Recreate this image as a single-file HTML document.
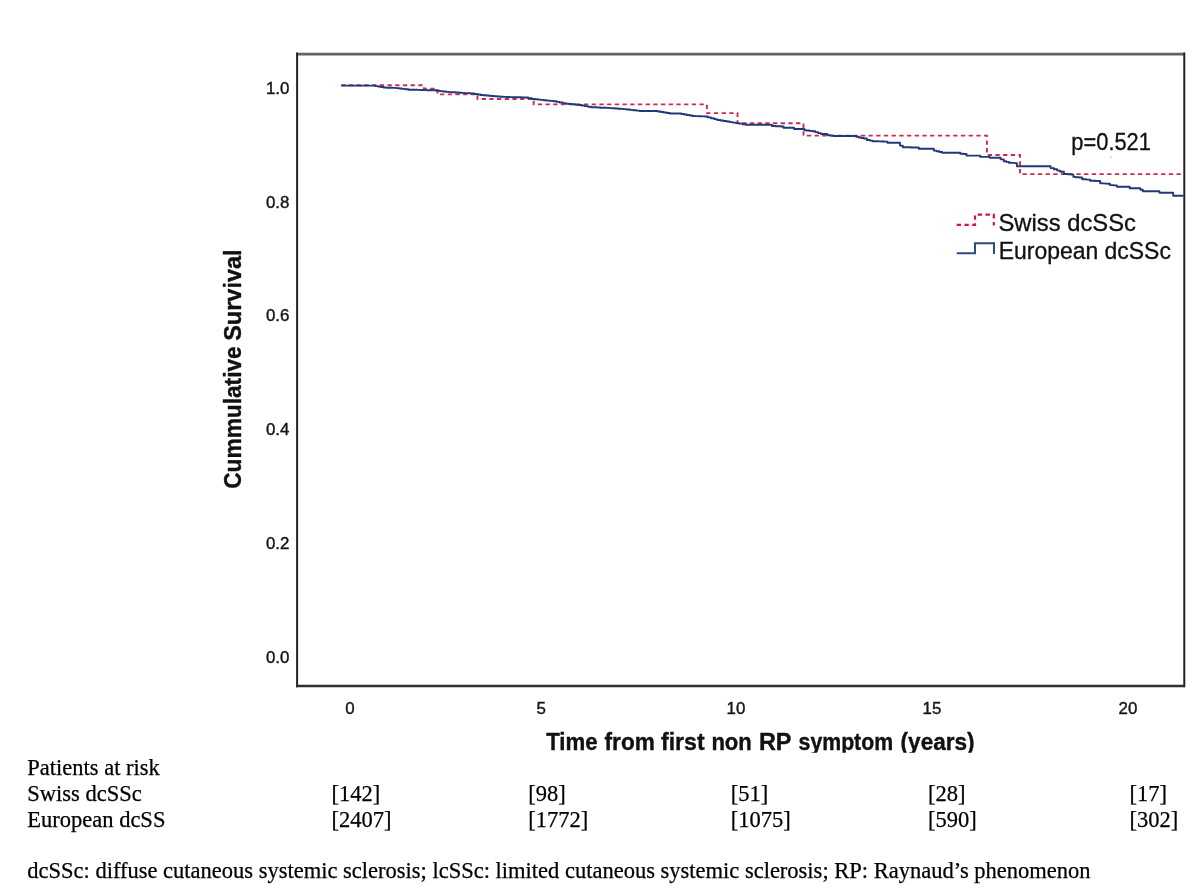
<!DOCTYPE html>
<html lang="en"><head><meta charset="utf-8"><title>Cumulative survival - Swiss vs European dcSSc</title>
<style>html,body{margin:0;padding:0;background:#fff}body{width:1200px;height:891px;overflow:hidden}svg{display:block}</style></head><body>
<svg width="1200" height="891" viewBox="0 0 1200 891">
<rect width="1200" height="891" fill="#fff"/>
<g fill="none">
<line x1="296.1" y1="54.1" x2="1185" y2="54.1" stroke="#636363" stroke-width="2.9"/>
<line x1="297.1" y1="52.5" x2="297.1" y2="687.3" stroke="#222" stroke-width="2"/>
<line x1="1184.3" y1="52.5" x2="1184.3" y2="687.3" stroke="#222" stroke-width="2"/>
<line x1="296.1" y1="686" x2="1185" y2="686" stroke="#2e2e2e" stroke-width="2.6"/>
</g>
<path d="M341.3 85.3H424.0V88.8H437.5V94.4H477.5V99.0H533.7V104.4H706.9V113.1H737.5V123.3H803.5V135.6H986.9V155.0H1020.0V174.1H1183.0" fill="none" stroke="#d02a52" stroke-width="1.9" stroke-dasharray="4.3 3.4"/>
<path d="M341.3 85.6H373.8H375.2V86.1H376.6H378.0V86.5H379.4H380.8V87.0H382.2H383.6V87.5H385.0H386.6V87.7H388.1H389.7V87.8H391.2H392.8V87.9H394.4H395.9V88.1H397.5H399.1V88.5H400.6H402.2V88.9H403.8H405.3V89.3H406.9H408.4V89.7H410.0H411.6V89.8H413.1H414.7V89.8H416.2H417.8V89.9H419.4H420.9V90.0H422.5H424.1V90.1H425.6H427.2V90.2H428.8H430.3V90.2H431.9H433.4V90.3H435.0H436.6V90.7H438.1H439.7V91.1H441.2H442.8V91.5H444.4H445.9V91.9H447.5H449.1V92.1H450.6H452.2V92.3H453.8H455.3V92.5H456.9H458.4V92.7H460.0H461.6V92.9H463.1H464.7V93.1H466.2H467.8V93.3H469.4H470.9V93.5H472.5H474.1V94.0H475.7H477.2V94.5H478.8H480.4V95.0H482.0H483.3V95.2H484.6H485.9V95.5H487.2H488.6V95.8H489.9H491.2V96.0H492.5H494.1V96.2H495.6H497.2V96.5H498.8H500.3V96.7H501.9H503.4V96.9H505.0H506.5V97.0H508.0H509.6V97.1H511.1H512.6V97.2H514.1H515.6V97.2H517.2H518.7V97.3H520.2H521.7V97.4H523.3H524.8V97.5H526.3H528.2V98.2H530.0H531.9V99.0H533.8H535.2V99.3H536.6H538.0V99.6H539.4H540.8V99.9H542.2H543.6V100.2H545.0H546.7V100.6H548.3H550.0V100.9H551.7H553.3V101.3H555.0H556.6V101.9H558.1H559.7V102.5H561.2H562.8V103.1H564.4H565.9V103.7H567.5H569.1V104.0H570.6H572.2V104.3H573.8H575.3V104.7H576.9H578.4V105.0H580.0H581.6V105.5H583.1H584.7V106.1H586.2H587.8V106.7H589.4H590.9V107.2H592.5H594.0V107.3H595.6H597.1V107.5H598.7H600.2V107.7H601.8H603.3V107.8H604.8H606.4V107.9H607.9H609.5V108.1H611.0H612.4V108.3H613.8H615.2V108.5H616.6H618.0V108.7H619.4H620.8V108.9H622.2H623.6V109.1H625.0H626.6V109.5H628.3H629.9V109.9H631.5H633.1V110.2H634.8H636.4V110.6H638.0H639.7V111.0H641.3H656.3H657.8V111.5H659.3H660.8V112.0H662.3H663.8V112.5H665.3H666.8V113.0H668.3H669.8V113.5H671.3H680.0H681.4V114.0H682.8H684.1V114.5H685.5H686.9V115.0H688.3H689.7V115.5H691.0H692.4V116.0H693.8H695.4V116.1H696.9H698.5V116.2H700.0H701.6V116.4H703.2H704.7V116.5H706.3H707.9V117.4H709.4H711.0V118.2H712.5H714.1V119.1H715.7H717.2V120.0H718.8H720.4V120.5H721.9H723.5V121.0H725.0H726.6V121.5H728.1H729.7V122.1H731.3H732.8V122.6H734.4H735.9V123.1H737.5H739.2V123.6H740.8H742.5V124.2H744.2H745.8V124.7H747.5H770.0H771.9V126.0H773.7H775.2V126.2H776.6H778.1V126.3H779.6H781.0V126.5H782.5H783.5V127.7H784.4H793.1H794.0V129.0H795.0H803.7H804.4V130.2H805.0H806.5V130.5H807.9H809.4V130.9H810.8H812.2V131.2H813.7H815.2V132.1H816.6H818.1V133.1H819.6H821.0V134.0H822.5H826.2H827.5V135.2H828.7H830.3V135.6H831.9H833.4V136.0H835.0H855.0H856.2V136.8H857.5H858.8V137.5H860.0H861.2V138.0H862.5H863.8V138.5H865.0H866.9V140.0H868.7H870.0V140.6H871.2H872.5V141.2H873.7H875.3V141.3H876.8H878.4V141.4H880.0H881.5V141.5H883.1H884.6V141.6H886.2H887.5V142.7H888.7H898.7H900.0V145.6H901.2H902.8V147.2H904.4H911.0V147.5H917.5H918.8V148.7H920.0H932.5H933.8V150.6H935.0H936.5V151.3H937.9H939.4V152.0H940.8H942.2V152.7H943.7H959.4H960.3V153.7H961.2H963.4V154.0H965.6H966.5V155.6H967.5H979.4H980.3V156.9H981.2H988.7H989.7V157.7H990.6H998.7H1000.6V159.4H1002.5H1003.8V161.2H1005.0H1006.2V161.9H1007.5H1008.8V162.7H1010.0H1011.5V162.9H1013.1H1014.7V163.1H1016.2H1016.9V166.3H1017.5H1048.7H1050.6V168.1H1052.5H1054.0V169.3H1055.6H1057.2V170.6H1058.7H1060.3V171.8H1062.0H1063.9V174.0H1065.8H1067.5V174.3H1069.3H1071.0V174.6H1072.8H1073.4V176.9H1074.0H1075.8V177.2H1077.5H1079.2V177.5H1081.0H1082.2V179.3H1083.3H1086.2V179.6H1089.2H1090.1V180.8H1091.0H1095.3V181.0H1099.7H1100.2V183.3H1100.8H1102.2V183.4H1103.5H1104.9V183.6H1106.3H1107.6V183.7H1109.0H1109.9V185.1H1110.8H1113.4V185.4H1116.0H1116.9V186.8H1117.8H1128.8H1129.7V188.2H1130.6H1139.3H1140.4V189.8H1141.5H1142.8V191.3H1144.0H1158.6H1159.4V192.7H1160.3H1172.6H1173.2V195.8H1173.8H1183.5" fill="none" stroke="#213977" stroke-width="1.9" stroke-linejoin="round"/>
<path d="M956.7 224.8H975V214.6H993.8V225.5" fill="none" stroke="#d2143f" stroke-width="2.2" stroke-dasharray="4.3 3.5"/>
<path d="M956.7 253.3H975V243.2H994V254" fill="none" stroke="#2c4a8a" stroke-width="2"/>
<g font-family="Liberation Sans, Arial, Helvetica, sans-serif" font-size="22.6" fill="#111" stroke="#111" stroke-width="0.3">
<text transform="translate(1071.3 150.4) scale(0.968 1.065)">p=0.521</text>
<text transform="translate(998.5 230.8) scale(1.052 1.05)">Swiss dcSSc</text>
<text transform="translate(998.7 258.7) scale(1.016 1.05)">European dcSSc</text>
</g>
<rect x="1109.8" y="156.6" width="2" height="1" fill="#b5b5b5"/>
<g font-family="Liberation Sans, Arial, Helvetica, sans-serif" font-size="16.9" fill="#151515" stroke="#151515" stroke-width="0.4">
<text x="289.4" y="94.1" text-anchor="end">1.0</text>
<text x="289.4" y="207.5" text-anchor="end">0.8</text>
<text x="289.4" y="320.8" text-anchor="end">0.6</text>
<text x="289.4" y="434.5" text-anchor="end">0.4</text>
<text x="289.4" y="548.8" text-anchor="end">0.2</text>
<text x="289.4" y="662.9" text-anchor="end">0.0</text>
<text x="350.0" y="714.3" text-anchor="middle">0</text>
<text x="541.2" y="714.3" text-anchor="middle">5</text>
<text x="736.0" y="714.3" text-anchor="middle">10</text>
<text x="932.0" y="714.3" text-anchor="middle">15</text>
<text x="1128.0" y="714.3" text-anchor="middle">20</text>
</g>
<defs><clipPath id="cx"><rect x="540" y="725" width="440" height="27.8"/></clipPath></defs>
<g font-family="Liberation Sans, Arial, Helvetica, sans-serif" font-size="22.5" font-weight="bold" fill="#111" stroke="#111" stroke-width="0.35">
<g clip-path="url(#cx)"><text transform="translate(0 749.9) scale(1 1.085)"><tspan x="546.2" textLength="51.5" lengthAdjust="spacingAndGlyphs">Time</tspan> <tspan x="604.6" textLength="50.2" lengthAdjust="spacingAndGlyphs">from</tspan> <tspan x="661.0" textLength="43.6" lengthAdjust="spacingAndGlyphs">first</tspan> <tspan x="711.4" textLength="40.4" lengthAdjust="spacingAndGlyphs">non</tspan> <tspan x="758.9" textLength="32.6" lengthAdjust="spacingAndGlyphs">RP</tspan> <tspan x="798.6" textLength="94.5" lengthAdjust="spacingAndGlyphs">symptom</tspan> <tspan x="900.6" textLength="74.0" lengthAdjust="spacingAndGlyphs">(years)</tspan></text></g>
<text transform="translate(240.7 488.8) rotate(-90) scale(1 1.1)"><tspan x="0" textLength="142.5" lengthAdjust="spacingAndGlyphs">Cummulative</tspan> <tspan x="148" textLength="91.4" lengthAdjust="spacingAndGlyphs">Survival</tspan></text>
</g>
<g font-family="Liberation Serif, Times New Roman, Times, serif" font-size="22.5" fill="#000" stroke="#000" stroke-width="0.25">
<text x="27.3" y="775.2">Patients at risk</text>
<text x="27.3" y="801.2">Swiss dcSSc</text>
<text x="27.3" y="827.2">European dcSS</text>
<text x="331.5" y="801.2">[142]</text>
<text x="528.2" y="801.2">[98]</text>
<text x="730.8" y="801.2">[51]</text>
<text x="927.9" y="801.2">[28]</text>
<text x="1129.5" y="801.2">[17]</text>
<text x="331.5" y="827.2">[2407]</text>
<text x="528.2" y="827.2">[1772]</text>
<text x="730.8" y="827.2">[1075]</text>
<text x="927.9" y="827.2">[590]</text>
<text x="1129.5" y="827.2">[302]</text>
<text x="27.3" y="878.1">dcSSc: diffuse cutaneous systemic sclerosis; lcSSc: limited cutaneous systemic sclerosis; RP: Raynaud’s phenomenon</text>
</g>
</svg></body></html>
